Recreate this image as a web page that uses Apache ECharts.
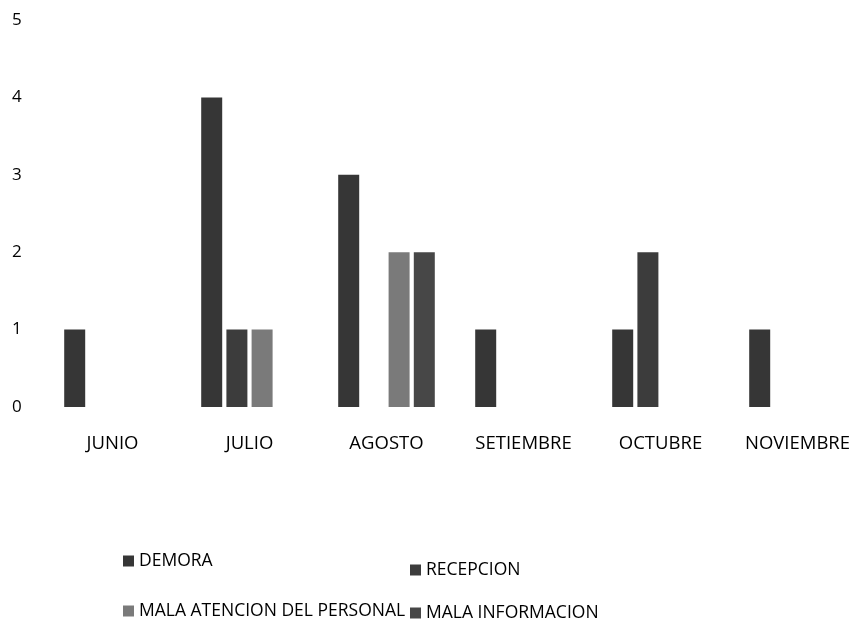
<!DOCTYPE html>
<html>
<head>
<meta charset="utf-8">
<script src="https://cdn.jsdelivr.net/npm/echarts@6/dist/echarts.min.js"></script>
<style>html,body{margin:0;padding:0;background:#fff;}#c{width:866px;height:624px;}</style>
</head>
<body>
<div id="c"></div>
<script>
const categories = ['JUNIO', 'JULIO', 'AGOSTO', 'SETIEMBRE', 'OCTUBRE', 'NOVIEMBRE'];
const demora = [1, 4, 3, 1, 1, 1];
const recepcion = [0, 1, 0, 0, 2, 0];
const malaAtencion = [0, 1, 2, 0, 0, 0];
const malaInformacion = [0, 0, 2, 0, 0, 0];
const yTicks = [0, 1, 2, 3, 4, 5];

const font = '"Open Sans", Lato, sans-serif';
const chart = echarts.init(document.getElementById('c'));
function bar(name, data, color) {
  return {
    name: name, type: 'bar', data: data.map(v => v === 0 ? null : v),
    barWidth: 21, barGap: '20%',
    itemStyle: { color: color }
  };
}
function leg(name, left, top) {
  return {
    data: [name], left: left, top: top, itemWidth: 11, itemHeight: 11, itemGap: 4,
    icon: 'rect', textStyle: { color: '#000', fontSize: 17.5, fontFamily: font }
  };
}
chart.setOption({
  animation: false,
  backgroundColor: '#fff',
  grid: { left: 44, top: 20, width: 831, height: 387 },
  xAxis: {
    type: 'category', data: categories,
    axisLine: { show: false }, axisTick: { show: false },
    axisLabel: { color: '#000', fontSize: 18.5, fontFamily: font, margin: 27, interval: 0 }
  },
  yAxis: {
    type: 'value', min: yTicks[0], max: yTicks[yTicks.length - 1], interval: 1,
    axisLine: { show: false }, axisTick: { show: false },
    splitLine: { show: false },
    axisLabel: { color: '#000', fontSize: 17, fontFamily: font, margin: 32, align: 'left' }
  },
  legend: [
    leg('DEMORA', 118, 547),
    leg('RECEPCION', 405, 556),
    leg('MALA ATENCION DEL PERSONAL', 118, 597),
    leg('MALA INFORMACION', 405, 599)
  ],
  series: [
    bar('DEMORA', demora, '#363636'),
    bar('RECEPCION', recepcion, '#3c3c3c'),
    bar('MALA ATENCION DEL PERSONAL', malaAtencion, '#7a7a7a'),
    bar('MALA INFORMACION', malaInformacion, '#474747')
  ]
});
</script>
</body>
</html>
